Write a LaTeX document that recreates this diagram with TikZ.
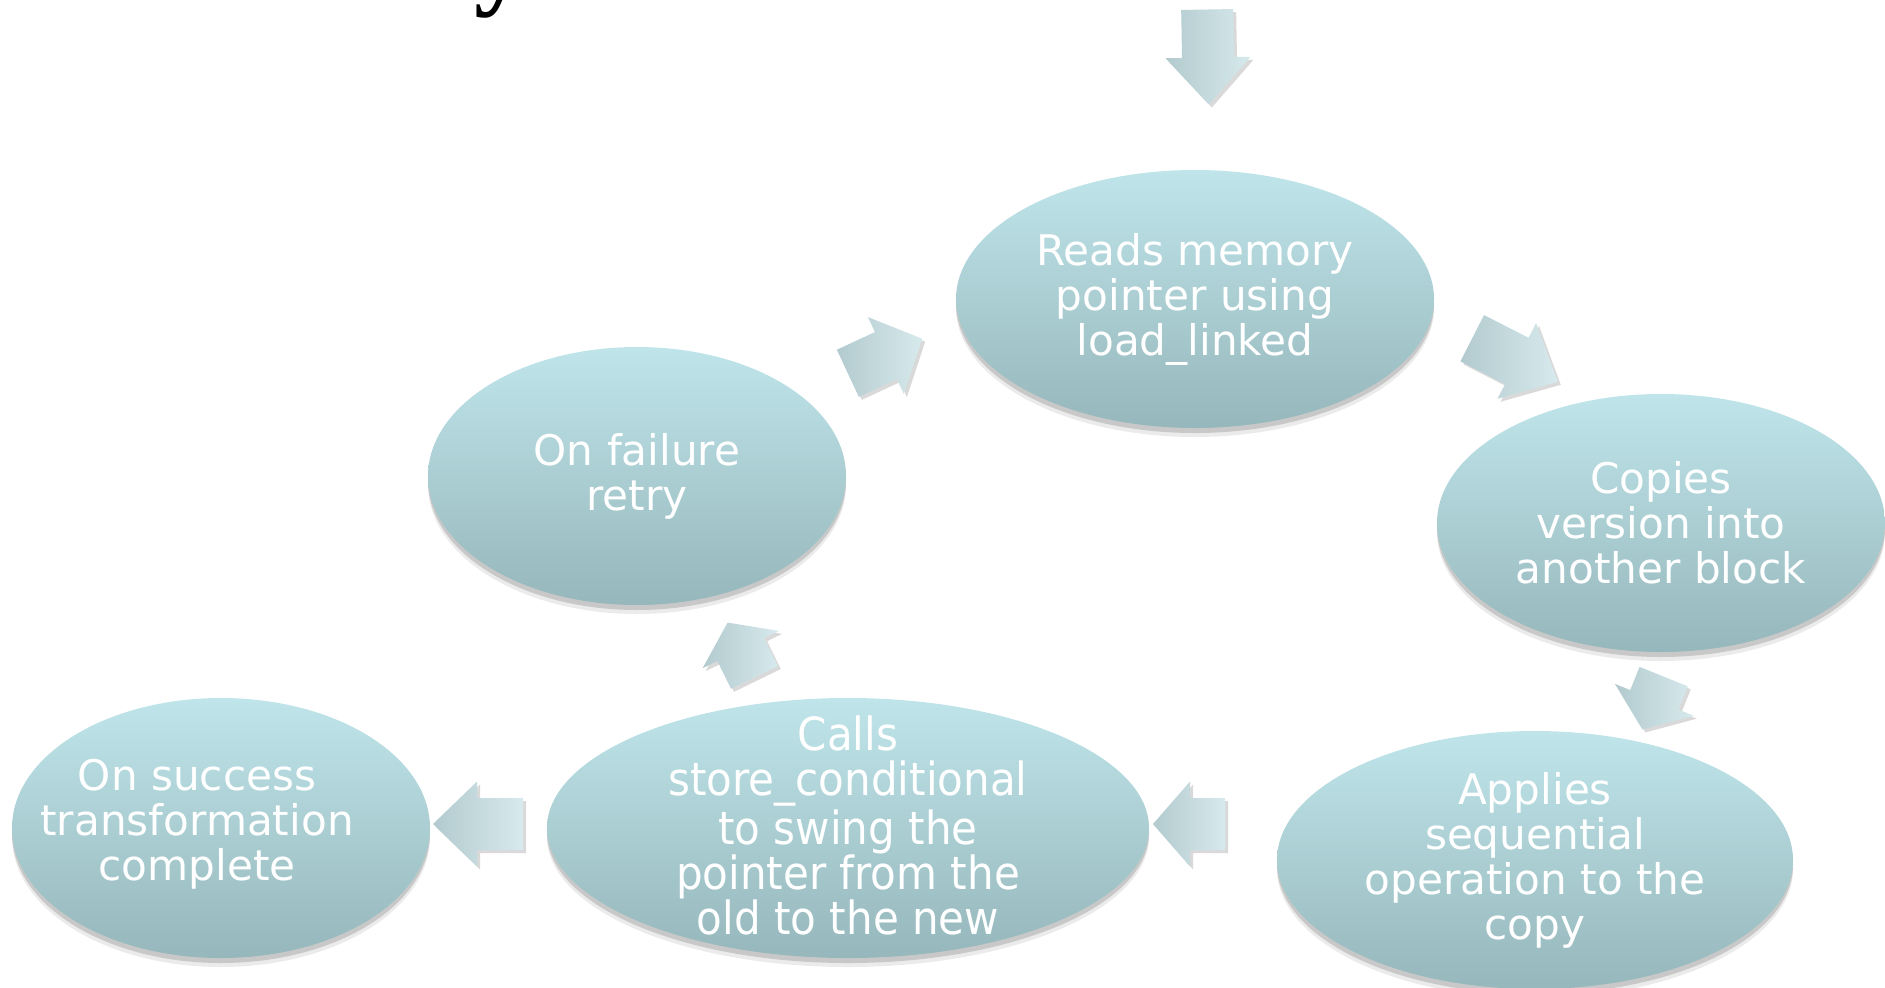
\documentclass[tikz,border=0pt]{standalone}
\usepackage{fontspec}
\setmainfont{DejaVu Sans}
\newfontfamily\narrowfont[FakeStretch=0.92]{DejaVu Sans}
\newfontfamily\titlefont{Liberation Serif}
\usetikzlibrary{shapes.geometric, shadows}

\definecolor{bubbletop}{RGB}{191,229,234}
\definecolor{bubblebot}{RGB}{150,183,187}
\definecolor{arrowlight}{RGB}{215,234,237}
\definecolor{arrowdark}{RGB}{178,202,206}

\begin{document}
\begin{tikzpicture}[
  bubble/.style={ellipse, inner sep=0pt, top color=bubbletop, bottom color=bubblebot,
    drop shadow={shadow xshift=0pt, shadow yshift=-0.09cm, opacity=0.08, fill=black},
    drop shadow={shadow xshift=0pt, shadow yshift=-0.05cm, opacity=0.15, fill=black}},
  bubbletext/.style={inner sep=0pt, text=white, align=center, font=\fontsize{12}{12.8}\selectfont},
  arrowfill/.style={left color=arrowdark, right color=arrowlight,
    drop shadow={shadow xshift=0.03cm, shadow yshift=-0.03cm, opacity=0.15, fill=black}},
  pics/flowarrow/.style 2 args={code={
    \path[arrowfill] (-#1/2,-0.26) -- (#1/2-#2,-0.26) -- (#1/2-#2,-0.425) -- (#1/2,0)
      -- (#1/2-#2,0.425) -- (#1/2-#2,0.26) -- (-#1/2,0.26) -- cycle;
  }}
]

  \useasboundingbox (0,0) rectangle (18.85,-9.87);
  \clip (0,0) rectangle (18.85,-9.87);

  % cut-off title
  \node[font=\titlefont\bfseries\fontsize{30}{32}\selectfont, inner sep=0pt, anchor=base west] (title) at (4.74,0.05) {y};

  % the cycle
  \node[bubble, minimum width=4.78cm, minimum height=2.58cm] (reads) at (11.95,-2.99) {};
  \node[bubbletext] (reads-text) at (reads) {Reads memory\\pointer using\\load\_linked};

  \node[bubble, minimum width=4.48cm, minimum height=2.58cm] (copies) at (16.61,-5.23) {};
  \node[bubbletext] (copies-text) at (copies) {Copies\\version into\\another block};

  \node[bubble, minimum width=5.16cm, minimum height=2.58cm] (applies) at (15.35,-8.60) {};
  \node[bubbletext] (applies-text) at (applies) {Applies\\sequential\\operation to the\\copy};

  \node[bubble, minimum width=6.02cm, minimum height=2.60cm] (calls) at (8.48,-8.28) {};
  \node[bubbletext, font=\narrowfont\fontsize{13}{12.8}\selectfont] (calls-text) at ([yshift=0.03cm]calls)
    {Calls\\store\_conditional\\to swing the\\pointer from the\\old to the new};

  \node[bubble, minimum width=4.18cm, minimum height=2.58cm] (failure) at (6.37,-4.76) {};
  \node[bubbletext] (failure-text) at (failure) {On failure\\retry};

  \node[bubble, minimum width=4.18cm, minimum height=2.60cm] (success) at (2.21,-8.28) {};
  \node[bubbletext] (success-text) at ([xshift=-0.24cm, yshift=0.035cm]success) {On success\\transformation\\complete};

  % block arrows
  \pic[rotate=-89] at (12.08,-0.57) {flowarrow={0.95}{0.47}};
  \pic[rotate=25] at (8.85,-3.56) {flowarrow={0.82}{0.40}};
  \pic[rotate=-27] at (15.15,-3.60) {flowarrow={0.96}{0.46}};
  \pic[rotate=-112] at (16.53,-7.03) {flowarrow={0.57}{0.32}};
  \pic[rotate=180] at (11.89,-8.24) {flowarrow={0.72}{0.37}};
  \pic[rotate=180] at (4.78,-8.24) {flowarrow={0.90}{0.44}};
  \pic[rotate=116] at (7.41,-6.50) {flowarrow={0.61}{0.30}};

\end{tikzpicture}
\end{document}
